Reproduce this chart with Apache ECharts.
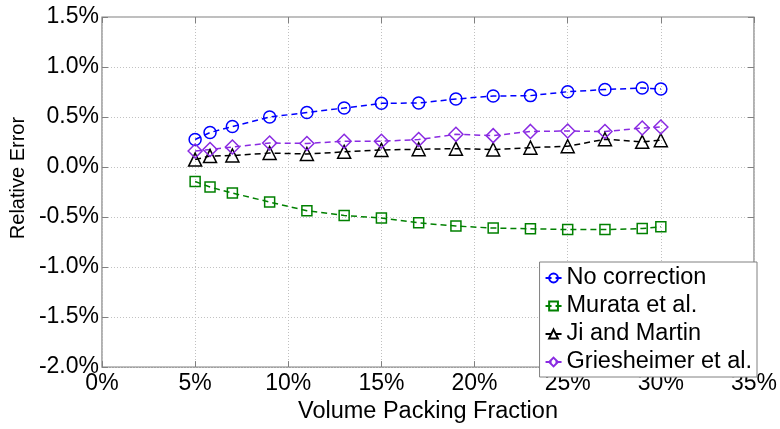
<!DOCTYPE html>
<html>
<head>
<meta charset="utf-8">
<script src="https://cdn.jsdelivr.net/npm/echarts@6/dist/echarts.min.js"></script>
<style>html,body{margin:0;padding:0;background:#fff;}#c{width:780px;height:429px;}</style>
</head>
<body>
<div id="c"></div>
<script>
const packing = [5, 5.8, 7, 9, 11, 13, 15, 17, 19, 21, 23, 25, 27, 29, 30];
const noCorrection = [0.275, 0.345, 0.405, 0.50, 0.545, 0.59, 0.637, 0.64, 0.68, 0.71, 0.714, 0.753, 0.775, 0.79, 0.78];
const murata = [-0.145, -0.20, -0.26, -0.35, -0.436, -0.484, -0.51, -0.558, -0.59, -0.61, -0.617, -0.625, -0.625, -0.615, -0.597];
const jiMartin = [0.075, 0.11, 0.115, 0.14, 0.13, 0.152, 0.171, 0.178, 0.184, 0.175, 0.194, 0.208, 0.278, 0.252, 0.268];
const griesheimer = [0.16, 0.175, 0.2, 0.24, 0.236, 0.258, 0.258, 0.275, 0.327, 0.314, 0.356, 0.36, 0.355, 0.39, 0.40];
const seriesNames = ['No correction', 'Murata et al.', 'Ji and Martin', 'Griesheimer et al.'];

const FONT = 'Liberation Sans, Arial, sans-serif';
const pairs = ys => packing.map((x, i) => [x, ys[i]]);

function mk(name, ys, color, symbol, size) {
  return {
    name, type: 'line', data: pairs(ys), symbol, symbolSize: size,
    showSymbol: true,
    lineStyle: { color, width: 1.5, type: [6, 4] },
    itemStyle: { color: 'rgba(255,255,255,0)', borderColor: color, borderWidth: 1.5 },
    emphasis: { disabled: true },
    animation: false
  };
}

const chart = echarts.init(document.getElementById('c'), null, { renderer: 'canvas' });
const axisCommon = {
  axisLine: { show: false, onZero: false },
  axisTick: { show: true, inside: true, length: 6, lineStyle: { color: '#808080' } },
};
chart.setOption({
  animation: false,
  backgroundColor: '#fff',
  textStyle: { fontFamily: FONT },
  grid: { left: 100, right: 23, top: 17, bottom: 52, show: true, borderColor: '#808080', borderWidth: 1.2, backgroundColor: 'transparent' },
  legend: {
    data: seriesNames,
    orient: 'vertical', right: 23, bottom: 52,
    backgroundColor: '#fff', borderColor: '#808080', borderWidth: 1,
    padding: [4, 5, 3, 5], itemGap: 4, itemWidth: 16, itemHeight: 11,
    textStyle: { fontFamily: FONT, fontSize: 23.5, color: '#000', lineHeight: 24 },
  },
  xAxis: [
    Object.assign({}, axisCommon, {
      type: 'value', min: 0, max: 35, interval: 5,
      name: 'Volume Packing Fraction', nameLocation: 'middle', nameGap: 25,
      nameTextStyle: { fontFamily: FONT, fontSize: 23.5, color: '#000' },
      axisLabel: { formatter: v => v + '%', fontFamily: FONT, fontSize: 23, color: '#000', margin: 5 },
      splitLine: { show: true, lineStyle: { color: '#c0c0c0', type: [1, 2] } }
    }),
    Object.assign({}, axisCommon, {
      type: 'value', min: 0, max: 35, interval: 5, position: 'top',
      axisLabel: { show: false }, splitLine: { show: false }
    })
  ],
  yAxis: [
    Object.assign({}, axisCommon, {
      type: 'value', min: -2, max: 1.5, interval: 0.5,
      name: 'Relative Error', nameLocation: 'middle', nameGap: 70,
      nameTextStyle: { fontFamily: FONT, fontSize: 20, color: '#000', padding: [0, 0, 0, 28] },
      axisLabel: { formatter: v => v.toFixed(1) + '%', fontFamily: FONT, fontSize: 23, color: '#000', margin: 3 },
      splitLine: { show: true, lineStyle: { color: '#c0c0c0', type: [1, 2] } }
    }),
    Object.assign({}, axisCommon, {
      type: 'value', min: -2, max: 1.5, interval: 0.5, position: 'right',
      axisLabel: { show: false }, splitLine: { show: false }
    })
  ],
  series: [
    mk(seriesNames[0], noCorrection, '#0000ff', 'circle', 12),
    mk(seriesNames[1], murata, '#008000', 'rect', 10),
    mk(seriesNames[2], jiMartin, '#000000', 'triangle', 13),
    mk(seriesNames[3], griesheimer, '#8a2be2', 'diamond', 14)
  ]
});
</script>
</body>
</html>
